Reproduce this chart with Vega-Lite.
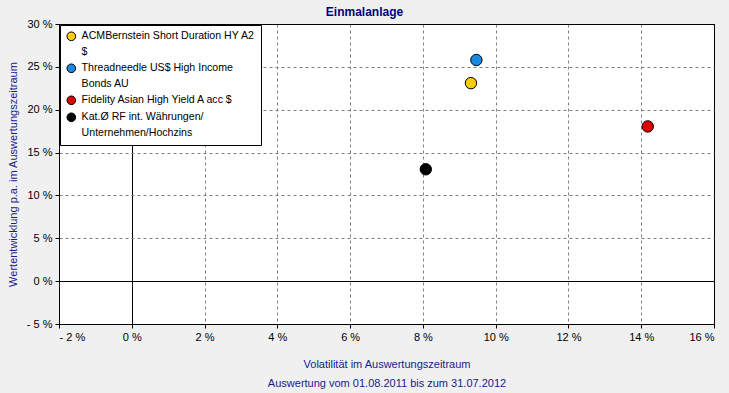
{
  "$schema": "https://vega.github.io/schema/vega-lite/v6.json",
  "width": 655,
  "height": 300,
  "autosize": {"type": "none"},
  "padding": {"left": 59, "top": 24, "right": 15, "bottom": 69},
  "background": "#f0f0f0",
  "title": {"text": "Einmalanlage", "anchor": "middle", "dx": -22, "offset": -1, "font": "Liberation Sans", "fontSize": 12, "fontWeight": "bold", "color": "#000080"},
  "config": {
    "font": "Liberation Sans",
    "view": {"stroke": "black", "strokeWidth": 1, "fill": "white"},
    "style": {"guide-label": {"lineHeight": 15.5}}
  },
  "layer": [
    {
      "data": {"values": [
        {"fund": "ACMBernstein Short Duration HY A2|$", "vol": 9.32, "perf": 23.1},
        {"fund": "Threadneedle US$ High Income|Bonds AU", "vol": 9.47, "perf": 25.8},
        {"fund": "Fidelity Asian High Yield A acc $", "vol": 14.18, "perf": 18.05},
        {"fund": "Kat.Ø RF int. Währungen/|Unternehmen/Hochzins", "vol": 8.08, "perf": 13.05}
      ]},
      "mark": {"type": "point", "filled": true, "shape": "circle", "size": 130, "stroke": "black", "strokeWidth": 1, "opacity": 1},
      "encoding": {
        "x": {
          "field": "vol", "type": "quantitative",
          "scale": {"domain": [-2, 16], "nice": false, "zero": false},
          "axis": {
            "values": [-2, 0, 2, 4, 6, 8, 10, 12, 14, 16],
            "labelExpr": "datum.value < 0 ? '- ' + abs(datum.value) + ' %' : datum.value + ' %'",
            "grid": true,
            "gridColor": {"condition": {"test": "datum.value == -2 || datum.value == 0 || datum.value == 16", "value": "black"}, "value": "#808080"},
            "gridDash": {"condition": {"test": "datum.value == -2 || datum.value == 0 || datum.value == 16", "value": []}, "value": [3, 3]},
            "gridWidth": 1,
            "domain": false, "ticks": true, "tickSize": 4, "tickColor": "black",
            "labelColor": "black", "labelFontSize": 11, "labelPadding": 3,
            "title": ["Volatilität im Auswertungszeitraum", "Auswertung vom 01.08.2011 bis zum 31.07.2012"],
            "titleColor": "#1a1a8c", "titleFontWeight": "normal", "titleFontSize": 11,
            "titleLineHeight": 19, "titlePadding": 16
          }
        },
        "y": {
          "field": "perf", "type": "quantitative",
          "scale": {"domain": [-5, 30], "nice": false, "zero": false},
          "axis": {
            "values": [-5, 0, 5, 10, 15, 20, 25, 30],
            "labelExpr": "datum.value < 0 ? '- ' + abs(datum.value) + ' %' : datum.value + ' %'",
            "grid": true,
            "gridColor": {"condition": {"test": "datum.value == -5 || datum.value == 0 || datum.value == 30", "value": "black"}, "value": "#808080"},
            "gridDash": {"condition": {"test": "datum.value == -5 || datum.value == 0 || datum.value == 30", "value": []}, "value": [3, 3]},
            "gridWidth": 1,
            "domain": false, "ticks": true, "tickSize": 4, "tickColor": "black",
            "labelColor": "black", "labelFontSize": 11, "labelPadding": 3,
            "title": "Wertentwicklung p.a.  im Auswertungszeitraum",
            "titleColor": "#1a1a8c", "titleFontWeight": "normal", "titleFontSize": 11,
            "titlePadding": 8
          }
        },
        "fill": {
          "field": "fund", "type": "nominal",
          "scale": {
            "domain": ["ACMBernstein Short Duration HY A2|$", "Threadneedle US$ High Income|Bonds AU", "Fidelity Asian High Yield A acc $", "Kat.Ø RF int. Währungen/|Unternehmen/Hochzins"],
            "range": ["#ffcc00", "#1a8ae0", "#e00000", "#000000"]
          },
          "legend": {
            "orient": "top-left", "offset": 1, "title": null,
            "fillColor": "white", "strokeColor": "black", "padding": 6,
            "labelFontSize": 10.6, "labelColor": "black", "labelLimit": 300,
            "labelExpr": "split(datum.label, '|')",
            "symbolType": "circle", "symbolSize": 75, "symbolStrokeColor": "black", "symbolStrokeWidth": 1, "symbolOpacity": 1,
            "rowPadding": 3, "labelOffset": 5
          }
        }
      }
    }
  ]
}
